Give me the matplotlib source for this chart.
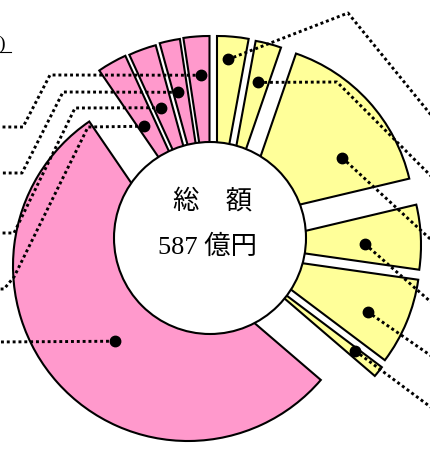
import numpy as np
import matplotlib
matplotlib.use("Agg")
import matplotlib.pyplot as plt
from matplotlib.patches import Wedge, Circle

# values (億円), clockwise from 12 o'clock
names = ["Y1", "Y2", "Y3", "Y4", "Y5", "Y6", "P0", "PA", "PB", "PC", "PD"]
values = [17, 14, 94, 35, 47, 6, 318, 16, 15, 11, 14]
total_label = "587 億円"
center_title = "総　額"

PINK = "#FF99CC"
YELLOW = "#FFFF99"
colors = [YELLOW] * 6 + [PINK] * 5

H = 450


def img(x, y):
    return x, H - y


# layout (image pixel coordinates)
hub = (210, 238)
hub_r = 96
wedge_r = 175
# apex offset of each wedge from the hub (dx, dy in image px)
offsets = [(7, -27), (14, -25), (29, -19), (36, 7), (35, 17), (32, 24),
           (-22, 28), (-12, -23), (-8, -24), (-4, -26), (-0.5, -27)]
# dot placement inside each wedge: fraction of angle span (from theta1), radius
dot_frac = [0.6, 0.5, 0.30, 0.40, 0.42, 0.68, 0.52, 0.7, 0.64, 0.7, 0.4]
dot_rad = [152, 135, 120, 119, 135, 144, 105, 104, 114, 123, 136]
# leader line waypoints after the dot (image px)
leaders = [
    [(348, 13), (440, 126)],
    [(337, 82), (440, 185)],
    [(440, 248)],
    [(440, 310)],
    [(440, 362)],
    [(440, 414)],
    [(-5, 342)],
    [(88, 127), (14, 277), (4, 289), (-5, 289)],
    [(75, 108), (14, 233), (-5, 233)],
    [(63, 92), (22, 173), (-5, 173)],
    [(50, 75), (23, 127), (-5, 127)],
]

fig = plt.figure(figsize=(4.3, 4.5), dpi=100)
ax = fig.add_axes([0, 0, 1, 1])
ax.set_xlim(0, 430)
ax.set_ylim(0, H)
ax.set_aspect("equal")
ax.axis("off")

angles = np.array(values) / sum(values) * 360.0
start = 90.0
dots = []
for i, a in enumerate(angles):
    t2 = start
    t1 = start - a
    start = t1
    cx, cy = img(hub[0] + offsets[i][0], hub[1] + offsets[i][1])
    w = Wedge((cx, cy), wedge_r, t1, t2, facecolor=colors[i],
              edgecolor="black", linewidth=1.5, zorder=1)
    ax.add_patch(w)
    phi = np.radians(t1 + dot_frac[i] * (t2 - t1))
    dots.append((cx + dot_rad[i] * np.cos(phi), cy + dot_rad[i] * np.sin(phi)))

for (dx, dy), path in zip(dots, leaders):
    xs = [dx] + [p[0] for p in path]
    ys = [dy] + [img(*p)[1] for p in path]
    ax.plot(xs, ys, color="black", linewidth=2.1, linestyle=(0, (1, 1)),
            dash_capstyle="butt", zorder=2)
    ax.plot(dx, dy, "o", color="black", markersize=7.5, zorder=4)

ax.add_patch(Circle(img(*hub), hub_r, facecolor="white", edgecolor="black",
                    linewidth=1.5, zorder=3))

fam = ["Liberation Serif", "Noto Sans CJK JP"]
ax.text(*img(213, 201), center_title, ha="center", va="center",
        fontsize=19, family=["Noto Sans CJK JP"], zorder=5)
ax.text(*img(207, 247), total_label, ha="center", va="center",
        fontsize=19, family=fam, zorder=5)

# cropped unit note in the top-left corner
ax.text(*img(6, 49), "(単位：億円)", ha="right", va="baseline",
        fontsize=14, family=fam)
ax.plot([-60, 11], [H - 52, H - 52], color="black", linewidth=0.8)

fig.savefig("out.png", dpi=100)
